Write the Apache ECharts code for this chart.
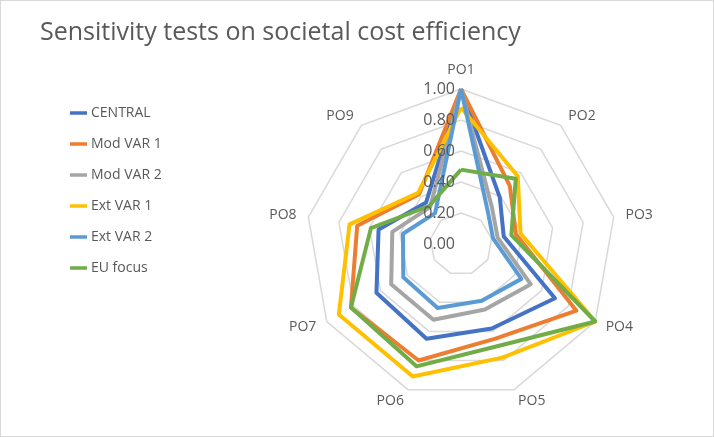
<!DOCTYPE html>
<html>
<head>
<meta charset="utf-8">
<script src="https://cdn.jsdelivr.net/npm/echarts@6/dist/echarts.min.js"></script>
<style>
  html, body { margin: 0; padding: 0; background: #fff; }
  #chart { width: 712px; height: 435px; border: 1px solid #d9d9d9; }
</style>
</head>
<body>
<div id="chart"></div>
<script>
// axes in clockwise order starting at the top
const categories = ['PO1', 'PO2', 'PO3', 'PO4', 'PO5', 'PO6', 'PO7', 'PO8', 'PO9'];
const tickLabels = ['0.00', '0.20', '0.40', '0.60', '0.80', '1.00'];

const central = [1.00, 0.39, 0.28, 0.70, 0.58, 0.65, 0.63, 0.54, 0.35];
const modVar1 = [1.00, 0.49, 0.36, 0.86, 0.65, 0.80, 0.82, 0.68, 0.42];
const modVar2 = [1.00, 0.31, 0.24, 0.52, 0.45, 0.52, 0.52, 0.45, 0.31];
const extVar1 = [0.88, 0.57, 0.39, 1.00, 0.78, 0.91, 0.91, 0.73, 0.43];
const extVar2 = [1.00, 0.27, 0.21, 0.45, 0.39, 0.44, 0.43, 0.38, 0.26];
const euFocus = [0.48, 0.55, 0.33, 1.00, 0.70, 0.84, 0.82, 0.59, 0.32];

const seriesNames = ['CENTRAL', 'Mod VAR 1', 'Mod VAR 2', 'Ext VAR 1', 'Ext VAR 2', 'EU focus'];
const seriesData = [central, modVar1, modVar2, extVar1, extVar2, euFocus];
const colors = ['#4472C4', '#ED7D31', '#A5A5A5', '#FFC000', '#5B9BD5', '#70AD47'];

// echarts lays radar indicators out counter-clockwise, so flip the order after the first
const order = [0].concat(categories.map((c, i) => i).slice(1).reverse());
const cx = 460, cy = 243, R = 155;

const chart = echarts.init(document.getElementById('chart'));

chart.setOption({
    animation: false,
    color: colors,
    title: {
        text: 'Sensitivity tests on societal cost efficiency',
        left: 34, top: 14,
        textStyle: { fontFamily: 'Open Sans', fontSize: 25, fontWeight: 'normal', color: '#595959' }
    },
    legend: {
        orient: 'vertical',
        left: 64, top: 100,
        itemGap: 17,
        itemWidth: 17, itemHeight: 19,
        icon: 'path://M0,8 L17,8 L17,11.5 L0,11.5 Z',
        textStyle: { fontFamily: 'Open Sans', fontSize: 14, color: '#595959', padding: [0, 0, 0, -1] },
        data: seriesNames
    },
    radar: {
        center: [cx, cy],
        radius: R,
        startAngle: 90,
        shape: 'polygon',
        splitNumber: 5,
        indicator: order.map(i => ({ name: categories[i], min: 0, max: 1 })),
        axisName: { color: '#595959', fontFamily: 'Open Sans', fontSize: 14 },
        nameGap: 12,
        splitLine: { lineStyle: { color: '#d9d9d9', width: 1.5 } },
        splitArea: { show: false },
        axisLine: { show: false },
        axisTick: { show: false },
        axisLabel: { show: false }
    },
    graphic: tickLabels.map((t, i) => ({
        type: 'text',
        style: {
            text: t, x: cx - 6, y: cy - R * i / (tickLabels.length - 1),
            align: 'right', verticalAlign: 'middle',
            fill: '#595959', font: '16px "Open Sans"'
        },
        z: 10
    })),
    series: [{
        type: 'radar',
        symbol: 'none',
        lineStyle: { width: 4 },
        data: seriesData.map((d, k) => ({
            name: seriesNames[k],
            value: order.map(i => d[i]),
            lineStyle: { color: colors[k], width: 4 },
            itemStyle: { color: colors[k] }
        }))
    }]
});
</script>
</body>
</html>
